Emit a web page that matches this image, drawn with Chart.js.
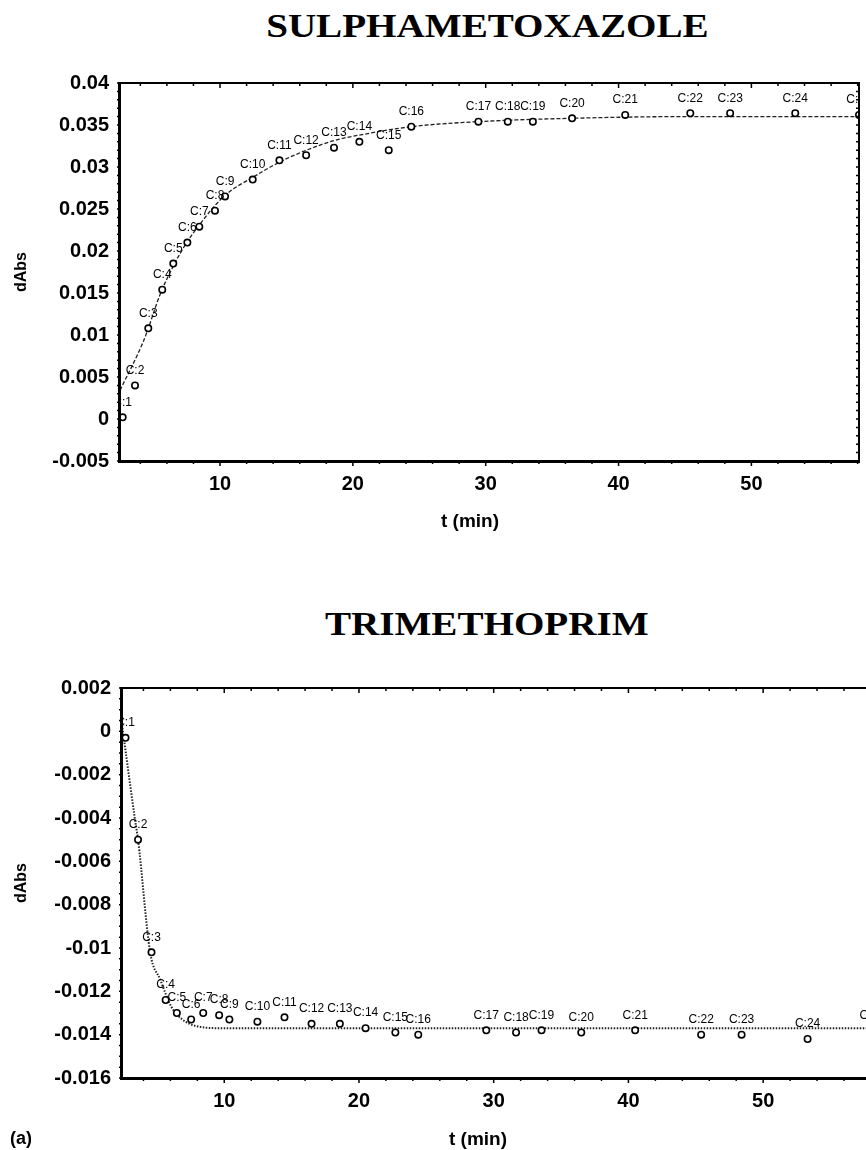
<!DOCTYPE html>
<html>
<head>
<meta charset="utf-8">
<script src="https://cdn.jsdelivr.net/npm/chart.js@4.4.1/dist/chart.umd.min.js"></script>
<style>
  html, body { margin: 0; padding: 0; background: #fff; }
  body { width: 866px; height: 1150px; overflow: hidden; position: relative; font-family: "Liberation Sans", Arial, sans-serif; color: #000; }
  .title { position: absolute; left: 54px; width: 866px; text-align: center; font-family: "Liberation Serif", "Times New Roman", serif; font-weight: bold; font-size: 34px; line-height: 40px; }
  .title span { display: inline-block; transform: scaleX(1.15); }
  #box1 { position: absolute; left: 0; top: 50px; width: 866px; height: 520px; }
  #box2 { position: absolute; left: 0; top: 650px; width: 890px; height: 500px; }
  #tag { position: absolute; left: 10px; top: 1128px; font-weight: bold; font-size: 18px; }
</style>
</head>
<body>
<div class="title" style="top:6px"><span>SULPHAMETOXAZOLE</span></div>
<div id="box1"><canvas id="sulphaChart"></canvas></div>
<div class="title" style="top:604px"><span>TRIMETHOPRIM</span></div>
<div id="box2"><canvas id="trimChart"></canvas></div>
<div id="tag">(a)</div>
<script>
// sampling times (min), shared by both runs
const times = [2.67, 3.6, 4.6, 5.65, 6.48, 7.54, 8.44, 9.62, 10.38, 12.46, 14.47, 16.48, 18.58, 20.49,
  22.7, 24.4, 29.45, 31.66, 33.55, 36.5, 40.5, 45.4, 48.4, 53.3, 58.1];
const pointLabels = ['C:1', 'C:2', 'C:3', 'C:4', 'C:5', 'C:6', 'C:7', 'C:8', 'C:9', 'C:10', 'C:11', 'C:12', 'C:13',
  'C:14', 'C:15', 'C:16', 'C:17', 'C:18', 'C:19', 'C:20', 'C:21', 'C:22', 'C:23', 'C:24', 'C:25'];

// measured dAbs
const sulphaValues = [0.0002, 0.0040, 0.0108, 0.0154, 0.0185, 0.0210, 0.0229, 0.0248, 0.0265, 0.0285, 0.0308,
  0.0314, 0.0323, 0.0330, 0.0320, 0.0348, 0.0354, 0.0354, 0.0354, 0.0358, 0.0362, 0.0364, 0.0364, 0.0364, 0.0362];
const trimValues = [-0.0003, -0.0050, -0.0102, -0.0124, -0.0130, -0.0133, -0.0130, -0.0131, -0.0133, -0.0134,
  -0.0132, -0.0135, -0.0135, -0.0137, -0.0139, -0.0140, -0.0138, -0.0139, -0.0138, -0.0139, -0.0138, -0.0140,
  -0.0140, -0.0142, -0.0138];

// fitted curves
const sulphaFitT = [2.47, 4.22, 4.6, 5.48, 6.48, 7.49, 8.49, 9.5, 10.5, 12.5, 14.5, 16.5, 18.7, 20.5, 24.4, 29.45, 36.5, 45, 58.1];
const sulphaFitV = [0.0034, 0.0092, 0.0108, 0.0148, 0.0182, 0.0210, 0.0232, 0.0252, 0.0268, 0.0288, 0.0306, 0.0320,
  0.0332, 0.0338, 0.0348, 0.0354, 0.0358, 0.0360, 0.0360];
const trimFitT = [2.41, 2.63, 3.38, 3.6, 4.5, 5.25, 6.06, 6.89, 7.9, 9.76, 20, 40, 58.6];
const trimFitV = [0.0003, -0.0007, -0.0041, -0.0050, -0.0102, -0.01146, -0.0127, -0.0133, -0.0136, -0.0137,
  -0.0137, -0.0137, -0.0137];

// axis ticks
const xTicks = [10, 20, 30, 40, 50];
const sulphaYTicks = [-0.005, 0, 0.005, 0.01, 0.015, 0.02, 0.025, 0.03, 0.035, 0.04];
const trimYTicks = [-0.016, -0.014, -0.012, -0.01, -0.008, -0.006, -0.004, -0.002, 0, 0.002];

const sans = '"Liberation Sans", Arial, sans-serif';

// point labels above each marker, clipped to the plot box
const pointLabelPlugin = {
  id: 'pointLabels',
  afterDatasetsDraw(chart) {
    const { ctx, chartArea: a } = chart;
    const meta = chart.getDatasetMeta(0);
    ctx.save();
    ctx.beginPath();
    ctx.rect(a.left, a.top, a.right - a.left, a.bottom - a.top);
    ctx.clip();
    ctx.font = '12px ' + sans;
    ctx.textAlign = 'center';
    ctx.textBaseline = 'middle';
    ctx.fillStyle = '#000';
    meta.data.forEach((pt, i) => ctx.fillText(pointLabels[i], pt.x, pt.y - 15));
    ctx.restore();
  }
};

// box frame with small ticks on every side, and the x title
const framePlugin = {
  id: 'frame',
  afterDraw(chart, args, opts) {
    const { ctx, chartArea: a, scales: { x, y } } = chart;
    ctx.save();
    ctx.strokeStyle = '#000';
    ctx.lineWidth = 1.5;
    ctx.beginPath();
    for (let v = 4; v <= x.max; v += 2) {
      const px = x.getPixelForValue(v);
      const len = v % 10 === 0 ? 5 : 3;
      ctx.moveTo(px, a.bottom); ctx.lineTo(px, a.bottom + len);
      ctx.moveTo(px, a.top); ctx.lineTo(px, a.top + len);
    }
    const n = Math.round((y.max - y.min) / opts.yMinor);
    for (let i = 0; i <= n; i++) {
      const py = y.getPixelForValue(y.min + i * opts.yMinor);
      ctx.moveTo(a.left, py); ctx.lineTo(a.left - 3, py);
      ctx.moveTo(a.right, py); ctx.lineTo(a.right - 3, py);
    }
    ctx.stroke();

    ctx.lineWidth = 2;
    ctx.beginPath();
    ctx.moveTo(a.left, a.top); ctx.lineTo(a.right, a.top); ctx.lineTo(a.right, a.bottom);
    ctx.stroke();
    ctx.lineWidth = 3;
    ctx.beginPath();
    ctx.moveTo(a.left - 0.5, a.top - 1); ctx.lineTo(a.left - 0.5, a.bottom + 0.5); ctx.lineTo(a.right + 1, a.bottom + 0.5);
    ctx.stroke();

    ctx.font = 'bold 19px ' + sans;
    ctx.fillStyle = '#000';
    ctx.textAlign = 'center';
    ctx.textBaseline = 'middle';
    ctx.fillText('t (min)', opts.titleX, opts.titleY);
    ctx.restore();
  }
};

function makeChart(id, cfg) {
  return new Chart(document.getElementById(id), {
    type: 'line',
    data: {
      datasets: [
        {
          label: 'measured',
          data: times.map((t, i) => ({ x: t, y: cfg.values[i] })),
          showLine: false,
          pointStyle: 'circle',
          pointRadius: 3.2,
          borderWidth: 1.6,
          pointBorderColor: '#000',
          pointBackgroundColor: '#fff'
        },
        {
          label: 'fit',
          data: cfg.fitT.map((t, i) => ({ x: t, y: cfg.fitV[i] })),
          borderColor: '#222',
          borderWidth: cfg.fitWidth,
          borderDash: cfg.fitDash,
          pointRadius: 0,
          cubicInterpolationMode: 'monotone',
          fill: false
        }
      ]
    },
    options: {
      responsive: true,
      maintainAspectRatio: false,
      animation: false,
      layout: { padding: cfg.padding },
      plugins: {
        legend: { display: false },
        tooltip: { enabled: false },
        frame: { yMinor: cfg.yMinor, titleX: cfg.titleX, titleY: cfg.titleY }
      },
      scales: {
        x: {
          type: 'linear',
          min: cfg.xMin,
          max: cfg.xMax,
          afterBuildTicks: s => { s.ticks = xTicks.map(v => ({ value: v })); },
          afterFit: s => { s.height = cfg.xHeight; },
          grid: { display: false, drawTicks: false },
          border: { display: false },
          ticks: { padding: 11, color: '#000', font: { family: sans, size: 20, weight: 'bold' } }
        },
        y: {
          min: cfg.yMin,
          max: cfg.yMax,
          afterBuildTicks: s => { s.ticks = cfg.yTicks.map(v => ({ value: v })); },
          afterFit: s => { s.width = cfg.yWidth; },
          grid: { display: false, drawTicks: false },
          border: { display: false },
          ticks: {
            padding: 11,
            color: '#000',
            font: { family: sans, size: 20, weight: 'bold' },
            callback: v => String(+v.toFixed(3))
          },
          title: {
            display: true,
            text: 'dAbs',
            color: '#000',
            padding: { top: 12, bottom: 0 },
            font: { family: sans, size: 16, weight: 'bold' }
          }
        }
      }
    },
    plugins: [framePlugin, pointLabelPlugin]
  });
}

const sulphaChart = makeChart('sulphaChart', {
  values: sulphaValues, fitT: sulphaFitT, fitV: sulphaFitV,
  fitWidth: 1.3, fitDash: [4, 2],
  xMin: 2.47, xMax: 58.1, yMin: -0.005, yMax: 0.04, yTicks: sulphaYTicks, yMinor: 0.001,
  padding: { top: 33, right: 7, left: 0, bottom: 0 }, xHeight: 109, yWidth: 120,
  titleX: 470, titleY: 472
});

const trimChart = makeChart('trimChart', {
  values: trimValues, fitT: trimFitT, fitV: trimFitV,
  fitWidth: 2, fitDash: [1.5, 1.5],
  xMin: 2.41, xMax: 58.6, yMin: -0.016, yMax: 0.002, yTicks: trimYTicks, yMinor: 0.0005,
  padding: { top: 38, right: 11, left: 0, bottom: 0 }, xHeight: 72, yWidth: 122,
  titleX: 478, titleY: 490
});
</script>
</body>
</html>
